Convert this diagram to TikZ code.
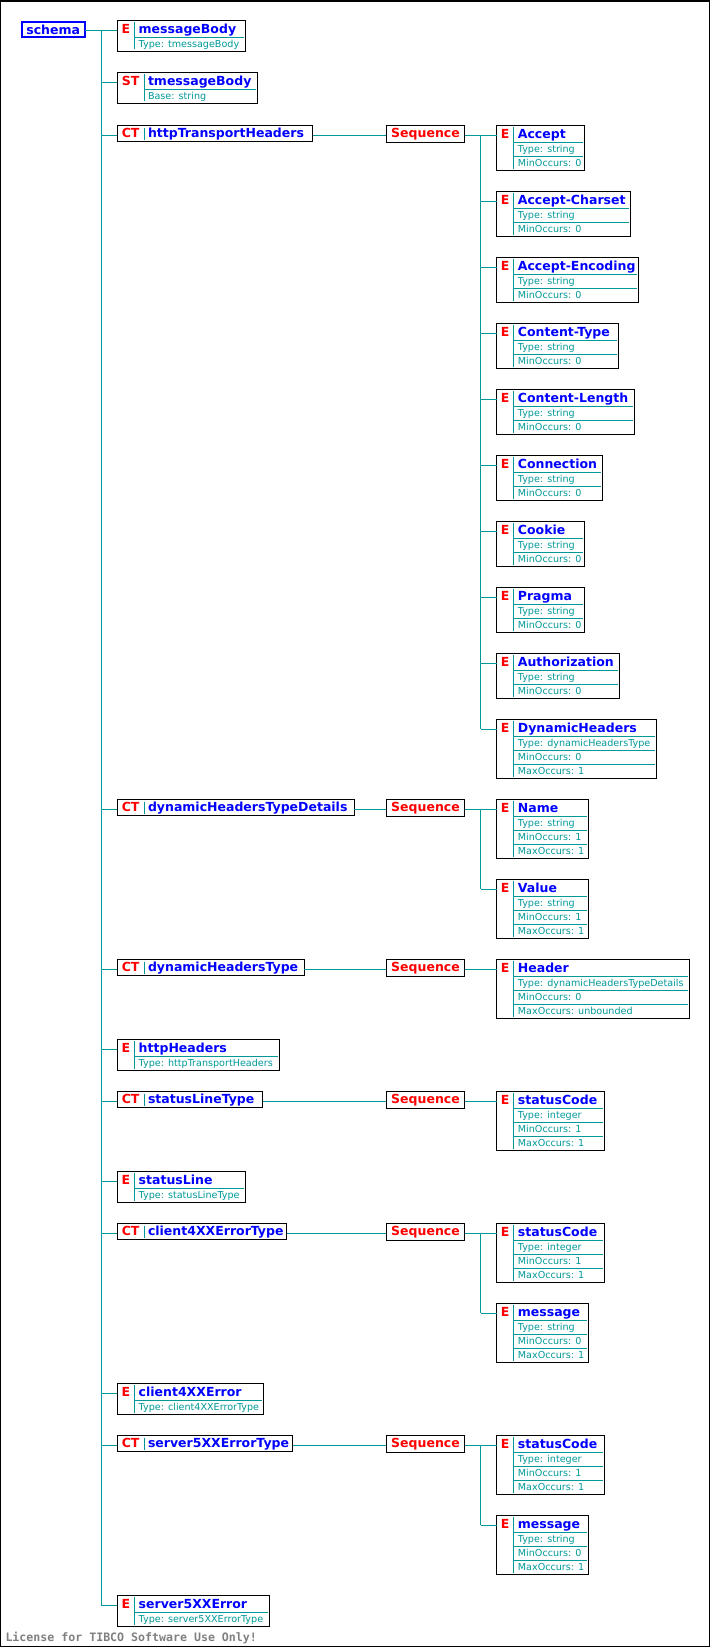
\documentclass[tikz,border=0pt]{standalone}
\usepackage{fontspec}
\setmainfont{DejaVu Sans}
\setmonofont{DejaVu Sans Mono}
\usetikzlibrary{calc}
\definecolor{xteal}{RGB}{0,153,153}
\definecolor{xblue}{RGB}{0,0,255}
\definecolor{xred}{RGB}{255,0,0}
\definecolor{xgray}{RGB}{128,128,128}
\tikzset{
  frame/.style={draw=black, line width=1pt, fill=white, rectangle, inner sep=0pt, outer sep=0pt},
  conn/.style={draw=xteal, line width=1pt},
  tagtxt/.style={text=xred, font=\fontsize{12.5}{14}\selectfont\bfseries, inner sep=0pt, outer sep=0pt},
  titletxt/.style={text=xblue, font=\fontsize{12.5}{14}\selectfont\bfseries, inner sep=0pt, outer sep=0pt},
  smalltxt/.style={text=xteal, font=\fontsize{9.6}{11}\selectfont, inner sep=0pt, outer sep=0pt},
  lictxt/.style={text=xgray, font=\fontsize{11.6}{13}\selectfont\ttfamily\bfseries, inner sep=0pt, outer sep=0pt},
}
% #1 id, #2 L, #3 T, #4 R, #5 tag column width, #6 tag, #7 title, #8 number of rows, #9 rows
\newcommand\XBox[9]{%
  \pgfmathsetmacro\bw{#4-#2}%
  \pgfmathsetmacro\bh{17.4+14*#8}%
  \node[frame, minimum width=\bw pt, minimum height=\bh pt, anchor=north west] (#1) at (#2,#3) {};
  \node[tagtxt, anchor=base] (#1-tag) at ($(#1.north west)+(#5/2,13)$) {#6};
  \draw[conn] ($(#1.north west)+(#5,2)$) -- ($(#1.south west)+(#5,-2)$);
  \node[titletxt, anchor=base west] (#1-title) at ($(#1.north west)+(#5+4,13)$) {#7};
  \draw[conn] ($(#1.north west)+(#5,17)$) -- ($(#1.north east)+(-1.5,17)$);
  \foreach \rowtext [count=\kk] in {#9} {
    \node[smalltxt, anchor=base west] (#1-r\kk) at ($(#1.north west)+(#5+4,13.4+14*\kk)$) {\rowtext};
  }
  \ifnum#8>1
    \foreach \kk in {2,...,#8} {
      \draw[conn] ($(#1.north west)+(#5,3+14*\kk)$) -- ($(#1.north east)+(-1.5,3+14*\kk)$);
    }
  \fi
}
% #1 id, #2 L, #3 T, #4 R, #5 tag, #6 title
\newcommand\TBox[6]{%
  \pgfmathsetmacro\bw{#4-#2}%
  \node[frame, minimum width=\bw pt, minimum height=16.5pt, anchor=north west] (#1) at (#2,#3) {};
  \node[tagtxt, anchor=base] (#1-tag) at ($(#1.north west)+(13.35,12.3)$) {#5};
  \draw[conn] ($(#1.north west)+(26.7,2.5)$) -- ($(#1.south west)+(26.7,-2)$);
  \node[titletxt, anchor=base west] (#1-title) at ($(#1.north west)+(30.7,12.3)$) {#6};
}
% #1 id, #2 T
\newcommand\SeqBox[2]{%
  \node[frame, minimum width=78.4pt, minimum height=17pt, anchor=north west] (#1) at (386.3,#2) {};
  \node[tagtxt, anchor=base] (#1-t) at ($(#1.north)+(0,12.3)$) {Sequence};
}
\begin{document}
\begin{tikzpicture}[x=1pt,y=-1pt]
\useasboundingbox (0,0) rectangle (710,1647);
\draw[line width=1pt] (0.5,0.5) rectangle (709.5,1646.5);
\draw[line width=1pt] (0,1.5) -- (710,1.5);

% schema
\node[draw=xblue, line width=2pt, fill=white, inner sep=0pt, outer sep=0pt, minimum width=63pt, minimum height=15.6pt, anchor=north west] (schema) at (21.7,21.7) {};
\node[titletxt, anchor=base] (schema-t) at (53.2,34.3) {schema};

% level 1
\XBox{msg}{117.3}{20}{245.7}{17.4}{E}{messageBody}{1}{Type: tmessageBody}
\XBox{tmsg}{117.3}{72}{257.7}{26.7}{ST}{tmessageBody}{1}{Base: string}
\TBox{htth}{117.3}{125.3}{312.7}{CT}{httpTransportHeaders}
\TBox{dhtd}{117.3}{799.3}{354.3}{CT}{dynamicHeadersTypeDetails}
\TBox{dht}{117.3}{959.3}{304.3}{CT}{dynamicHeadersType}
\XBox{hh}{117.3}{1039.3}{279.7}{17.4}{E}{httpHeaders}{1}{Type: httpTransportHeaders}
\TBox{slt}{117.3}{1091.3}{262.7}{CT}{statusLineType}
\XBox{sl}{117.3}{1171.3}{245.3}{17.4}{E}{statusLine}{1}{Type: statusLineType}
\TBox{c4t}{117.3}{1223.3}{286.7}{CT}{client4XXErrorType}
\XBox{c4}{117.3}{1383.3}{263.3}{17.4}{E}{client4XXError}{1}{Type: client4XXErrorType}
\TBox{s5t}{117.3}{1435.3}{292.7}{CT}{server5XXErrorType}
\XBox{s5}{117.3}{1595.3}{269.3}{17.4}{E}{server5XXError}{1}{Type: server5XXErrorType}

% sequences
\SeqBox{seq1}{125.3}
\SeqBox{seq2}{799.3}
\SeqBox{seq3}{959.3}
\SeqBox{seq4}{1091.3}
\SeqBox{seq5}{1223.3}
\SeqBox{seq6}{1435.3}

% level 2
\XBox{acc}{496.5}{125.3}{584.3}{17.4}{E}{Accept}{2}{Type: string, MinOccurs: 0}
\XBox{accc}{496.5}{191.3}{630.3}{17.4}{E}{Accept-Charset}{2}{Type: string, MinOccurs: 0}
\XBox{acce}{496.5}{257.3}{638.5}{17.4}{E}{Accept-Encoding}{2}{Type: string, MinOccurs: 0}
\XBox{ctyp}{496.5}{323.3}{618.7}{17.4}{E}{Content-Type}{2}{Type: string, MinOccurs: 0}
\XBox{clen}{496.5}{389.3}{634.7}{17.4}{E}{Content-Length}{2}{Type: string, MinOccurs: 0}
\XBox{conn}{496.5}{455.3}{602.7}{17.4}{E}{Connection}{2}{Type: string, MinOccurs: 0}
\XBox{cook}{496.5}{521.3}{584.7}{17.4}{E}{Cookie}{2}{Type: string, MinOccurs: 0}
\XBox{prag}{496.5}{587.3}{584.7}{17.4}{E}{Pragma}{2}{Type: string, MinOccurs: 0}
\XBox{auth}{496.5}{653.3}{619.7}{17.4}{E}{Authorization}{2}{Type: string, MinOccurs: 0}
\XBox{dynh}{496.5}{719.3}{656.7}{17.4}{E}{DynamicHeaders}{3}{Type: dynamicHeadersType, MinOccurs: 0, MaxOccurs: 1}
\XBox{name}{496.5}{799.3}{588.3}{17.4}{E}{Name}{3}{Type: string, MinOccurs: 1, MaxOccurs: 1}
\XBox{valu}{496.5}{879.3}{588.3}{17.4}{E}{Value}{3}{Type: string, MinOccurs: 1, MaxOccurs: 1}
\XBox{head}{496.5}{959.3}{689.7}{17.4}{E}{Header}{3}{Type: dynamicHeadersTypeDetails, MinOccurs: 0, MaxOccurs: unbounded}
\XBox{sc1}{496.5}{1091.3}{604.3}{17.4}{E}{statusCode}{3}{Type: integer, MinOccurs: 1, MaxOccurs: 1}
\XBox{sc2}{496.5}{1223.3}{604.3}{17.4}{E}{statusCode}{3}{Type: integer, MinOccurs: 1, MaxOccurs: 1}
\XBox{msg2}{496.5}{1303.3}{588.3}{17.4}{E}{message}{3}{Type: string, MinOccurs: 0, MaxOccurs: 1}
\XBox{sc3}{496.5}{1435.3}{604.3}{17.4}{E}{statusCode}{3}{Type: integer, MinOccurs: 1, MaxOccurs: 1}
\XBox{msg3}{496.5}{1515.3}{588.3}{17.4}{E}{message}{3}{Type: string, MinOccurs: 0, MaxOccurs: 1}

% connectors level 1
\coordinate (spTop) at (101.3,30);
\draw[conn] (schema.east |- spTop) -- (spTop) -- ($(s5.north west)+(-16,10)$);
\foreach \nn in {msg,tmsg,htth,dhtd,dht,hh,slt,sl,c4t,c4,s5t,s5} {
  \draw[conn] ($(\nn.north west)+(0,10)$) -- ++(-16,0);
}
% CT -> Sequence -> children
\foreach \ct/\sq/\first/\last in {htth/seq1/acc/dynh, dhtd/seq2/name/valu, dht/seq3/head/head, slt/seq4/sc1/sc1, c4t/seq5/sc2/msg2, s5t/seq6/sc3/msg3} {
  \draw[conn] ($(\ct.north east)+(0,10)$) -- ($(\sq.north west)+(0,10)$);
  \draw[conn] ($(\sq.north east)+(0,10)$) -- ($(\first.north west)+(0,10)$);
  \draw[conn] ($(\first.north west)+(-16,10)$) -- ($(\last.north west)+(-16,10)$);
}
\foreach \nn in {accc,acce,ctyp,clen,conn,cook,prag,auth,dynh,valu,msg2,msg3} {
  \draw[conn] ($(\nn.north west)+(0,10)$) -- ++(-16,0);
}

% license
\node[lictxt, anchor=base west] (lic) at (5.5,1641.5) {License for TIBCO Software Use Only!};
\end{tikzpicture}
\end{document}
